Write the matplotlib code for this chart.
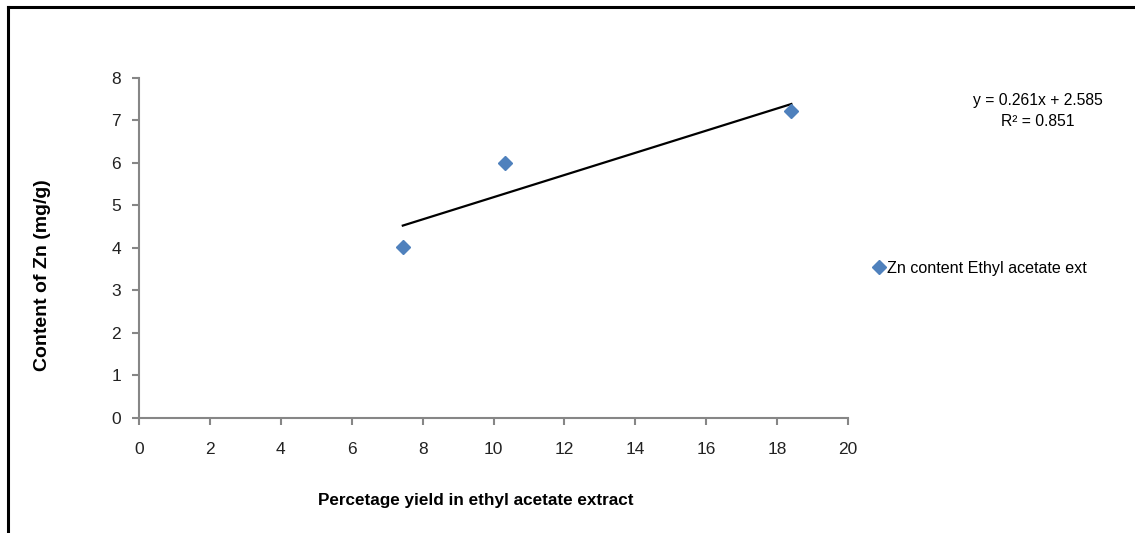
import matplotlib.pyplot as plt
from matplotlib.lines import Line2D

# percentage yield vs Zn content
yield_pct = [7.44, 10.33, 18.4]
zn_content = [4.02, 6.0, 7.22]
slope = 0.261
intercept = 2.585
r2 = 0.851

plt.rcParams['font.family'] = ['Liberation Sans', 'DejaVu Sans']
grey = '#868686'

fig = plt.figure(figsize=(11.35, 5.33), dpi=100)
ax = fig.add_axes([0.1225, 0.2158, 0.6247, 0.6379])

ax.plot(yield_pct, zn_content, 'D', color='#4F81BD', markersize=7.5,
        label='Zn content Ethyl acetate ext', zorder=3)
x0, x1 = min(yield_pct), max(yield_pct)
ax.plot([x0, x1], [slope * x0 + intercept, slope * x1 + intercept],
        color='black', linewidth=1.6)

ax.set_xlim(0, 20)
ax.set_ylim(0, 8)
ax.set_xticks(range(0, 21, 2))
ax.set_yticks(range(0, 9))
for s in ['top', 'right']:
    ax.spines[s].set_visible(False)
for s in ['left', 'bottom']:
    ax.spines[s].set_color(grey)
    ax.spines[s].set_linewidth(1.5)
ax.tick_params(direction='out', length=5, width=1.5, color=grey,
               labelsize=12.5, labelcolor='#222222', pad=8)
ax.tick_params(axis='x', pad=12.5)

ax.set_xlabel('Percetage yield in ethyl acetate extract', fontsize=12.3,
              fontweight='bold')
ax.set_ylabel('Content of Zn (mg/g)', fontsize=14, fontweight='bold')
ax.xaxis.set_label_coords(0.475, -0.222)
ax.yaxis.set_label_coords(-0.124, 0.42)

fig.text(1038 / 1135, 1 - 100 / 533, 'y = 0.261x + 2.585', ha='center',
         va='center', fontsize=11.3)
fig.text(1038 / 1135, 1 - 121 / 533, 'R² = %.3f' % r2, ha='center',
         va='center', fontsize=11.3)

fig.legend(loc='center left', bbox_to_anchor=(856 / 1135, 1 - 268 / 533),
           frameon=False, fontsize=11.6, handletextpad=0.05,
           handlelength=1.0, markerscale=0.9)

# chart area frame (cropped on right and bottom)
fx = 8 / 1135
fy = 1 - 7 / 533
fig.add_artist(Line2D([fx, fx], [0, fy], color='black', linewidth=2.2,
                      transform=fig.transFigure))
fig.add_artist(Line2D([fx, 1], [fy, fy], color='black', linewidth=2.2,
                      transform=fig.transFigure))

fig.savefig('out.png', dpi=100)
